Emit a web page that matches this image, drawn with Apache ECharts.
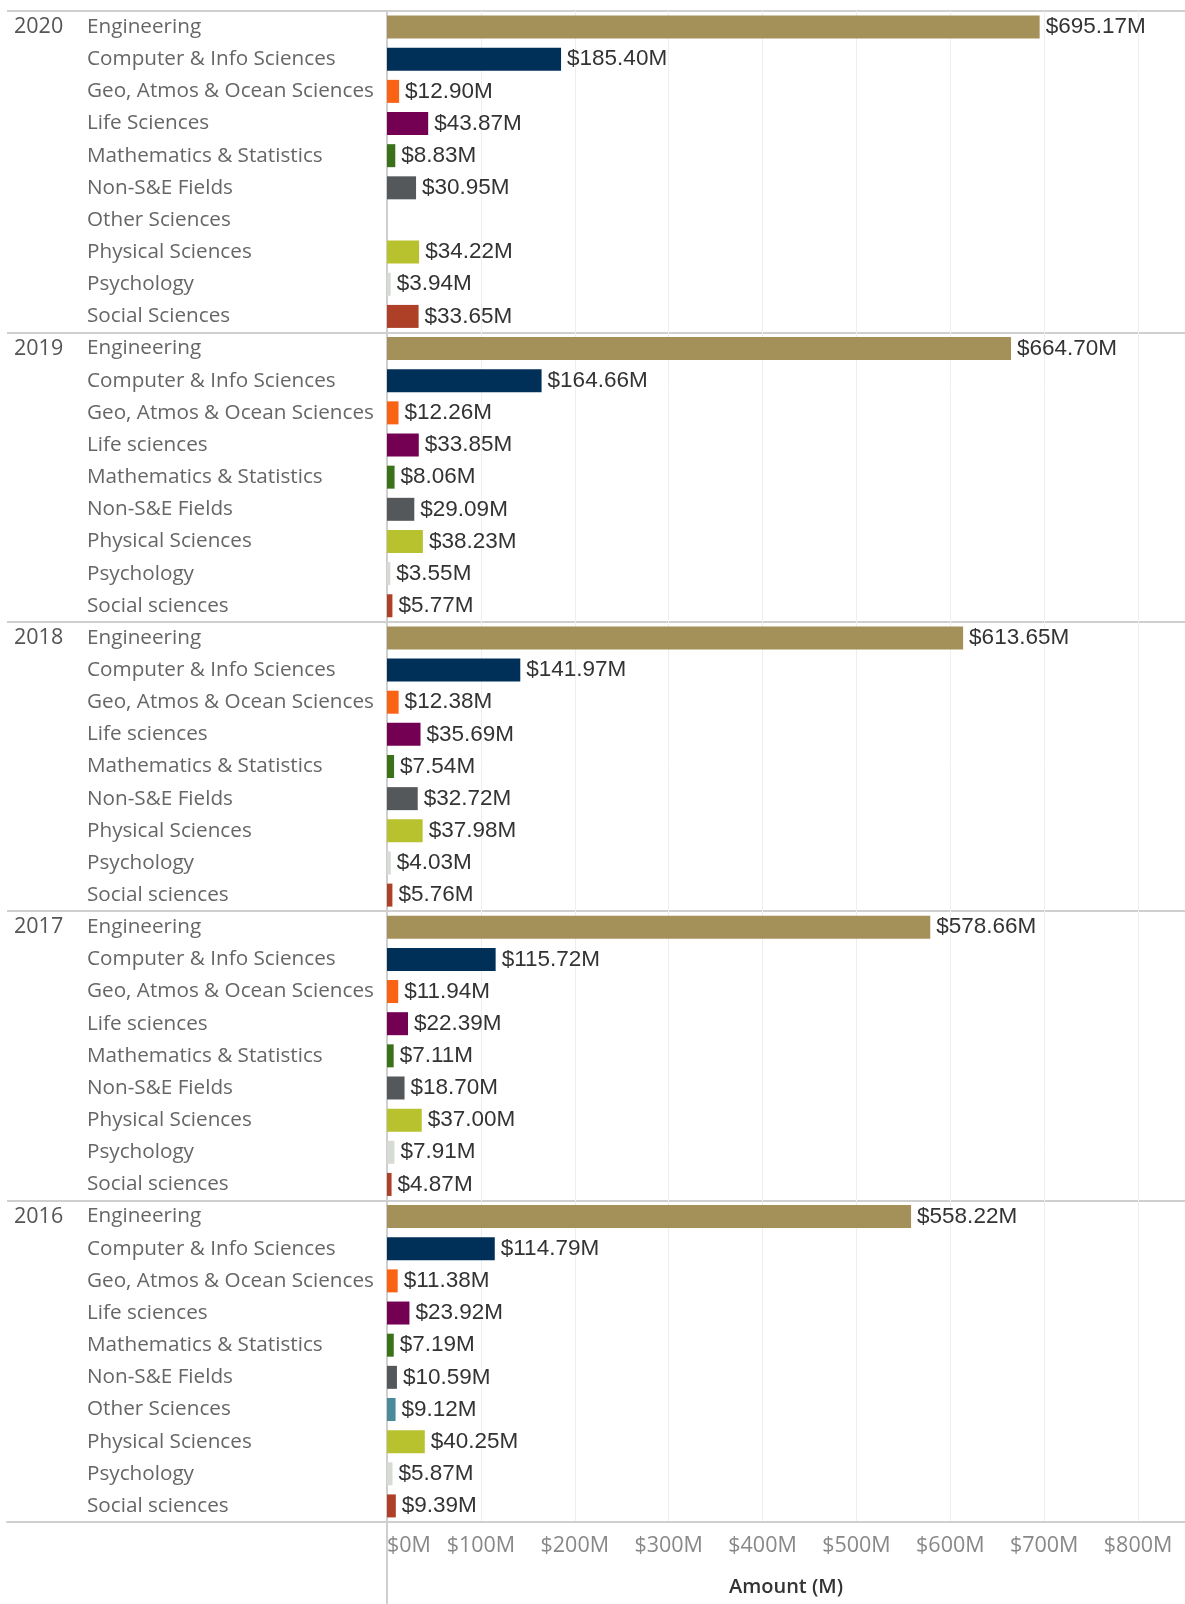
<!DOCTYPE html>
<html>
<head>
    <meta charset="utf-8">
    <title>Research expenditures by field</title>
    <script src="https://cdn.jsdelivr.net/npm/echarts@6/dist/echarts.min.js"></script>
    <style>
        html, body { margin: 0; padding: 0; background: #fff; }
    </style>
</head>
<body>
    <div id="main" style="width:1185px;height:1604px;"></div>
    <script type="text/javascript">
        var chart = echarts.init(document.getElementById('main'));

        // rows per year (top to bottom)
        var years = ['2020', '2019', '2018', '2017', '2016'];

        var fields2020 = ['Engineering', 'Computer & Info Sciences', 'Geo, Atmos & Ocean Sciences', 'Life Sciences',
            'Mathematics & Statistics', 'Non-S&E Fields', 'Other Sciences', 'Physical Sciences', 'Psychology', 'Social Sciences'];
        var values2020 = [695.17, 185.40, 12.90, 43.87, 8.83, 30.95, null, 34.22, 3.94, 33.65];

        var fields2019 = ['Engineering', 'Computer & Info Sciences', 'Geo, Atmos & Ocean Sciences', 'Life sciences',
            'Mathematics & Statistics', 'Non-S&E Fields', 'Physical Sciences', 'Psychology', 'Social sciences'];
        var values2019 = [664.70, 164.66, 12.26, 33.85, 8.06, 29.09, 38.23, 3.55, 5.77];

        var fields2018 = fields2019;
        var values2018 = [613.65, 141.97, 12.38, 35.69, 7.54, 32.72, 37.98, 4.03, 5.76];

        var fields2017 = fields2019;
        var values2017 = [578.66, 115.72, 11.94, 22.39, 7.11, 18.70, 37.00, 7.91, 4.87];

        var fields2016 = ['Engineering', 'Computer & Info Sciences', 'Geo, Atmos & Ocean Sciences', 'Life sciences',
            'Mathematics & Statistics', 'Non-S&E Fields', 'Other Sciences', 'Physical Sciences', 'Psychology', 'Social sciences'];
        var values2016 = [558.22, 114.79, 11.38, 23.92, 7.19, 10.59, 9.12, 40.25, 5.87, 9.39];

        var fieldColors = {
            'engineering': '#a4915a',
            'computer & info sciences': '#003057',
            'geo, atmos & ocean sciences': '#fa6214',
            'life sciences': '#730053',
            'mathematics & statistics': '#3b7219',
            'non-s&e fields': '#54585a',
            'other sciences': '#4b8a9b',
            'physical sciences': '#b8c22f',
            'psychology': '#d6dbd4',
            'social sciences': '#ad4027'
        };

        var groups = [
            [fields2020, values2020], [fields2019, values2019], [fields2018, values2018],
            [fields2017, values2017], [fields2016, values2016]
        ];

        // flatten into rows
        var rowFields = [], rowYears = [], rowStart = [], barData = [];
        groups.forEach(function (g, gi) {
            g[0].forEach(function (f, i) {
                rowFields.push(f);
                rowYears.push(i === 0 ? years[gi] : '');
                rowStart.push(i === 0);
                var v = g[1][i];
                barData.push(v == null ? null : {
                    value: v,
                    itemStyle: { color: fieldColors[f.toLowerCase()] }
                });
            });
        });

        var lineColor = '#cfcfcf';
        var labelFont = 'Open Sans';

        var option = {
            animation: false,
            grid: [
                { left: 7, width: 380, top: 11, bottom: 82 },
                { left: 387, right: 0, top: 11, bottom: 82 }
            ],
            xAxis: [
                {
                    gridIndex: 0, type: 'value', min: 0, max: 1,
                    axisLine: { show: true, onZero: false, lineStyle: { color: lineColor, width: 2 } },
                    axisTick: { show: false }, axisLabel: { show: false }, splitLine: { show: false }
                },
                {
                    gridIndex: 1, type: 'value', min: 0, max: 850, interval: 100,
                    name: 'Amount (M)', nameLocation: 'middle', nameGap: 55,
                    nameTextStyle: { fontFamily: labelFont, fontSize: 20, color: '#333', fontWeight: 600 },
                    axisLine: { show: true, onZero: false, lineStyle: { color: lineColor, width: 2 } },
                    axisTick: { show: false },
                    axisLabel: {
                        fontFamily: labelFont, fontSize: 21.5, color: '#888', margin: 13,
                        showMaxLabel: false, alignMinLabel: 'left',
                        formatter: function (v) { return '$' + v + 'M'; }
                    },
                    splitLine: { show: true, lineStyle: { color: '#eeeeee', width: 1 } }
                }
            ],
            yAxis: [
                {
                    gridIndex: 0, type: 'category', inverse: true, data: rowYears,
                    axisLine: { show: false }, axisTick: { show: false },
                    axisLabel: {
                        inside: true, margin: 7, interval: 0, padding: [3, 0, 0, 0],
                        fontFamily: labelFont, fontSize: 21.5, color: '#555'
                    },
                    splitLine: {
                        show: true,
                        interval: function (i) { return rowStart[i]; },
                        lineStyle: { color: lineColor, width: 2 }
                    }
                },
                {
                    gridIndex: 1, type: 'category', inverse: true, data: rowFields,
                    axisLine: { show: true, lineStyle: { color: lineColor, width: 2 } },
                    axisTick: { show: false },
                    axisLabel: {
                        interval: 0, align: 'left', margin: 300, padding: [3, 0, 0, 0],
                        fontFamily: labelFont, fontSize: 20.7, color: '#666'
                    },
                    splitLine: {
                        show: true,
                        interval: function (i) { return rowStart[i]; },
                        lineStyle: { color: lineColor, width: 2 }
                    }
                }
            ],
            series: [{
                type: 'bar',
                xAxisIndex: 1,
                yAxisIndex: 1,
                barWidth: 23,
                data: barData,
                label: {
                    show: true,
                    position: 'right',
                    distance: 6,
                    fontFamily: 'Liberation Sans',
                    fontSize: 22.5,
                    color: '#333',
                    formatter: function (p) { return '$' + p.value.toFixed(2) + 'M'; }
                }
            }],
            // the pane divider keeps going below the axis labels
            graphic: [{
                type: 'rect',
                shape: { x: 386, y: 1522, width: 2, height: 82 },
                style: { fill: lineColor },
                silent: true
            }]
        };

        chart.setOption(option);
    </script>
</body>
</html>
